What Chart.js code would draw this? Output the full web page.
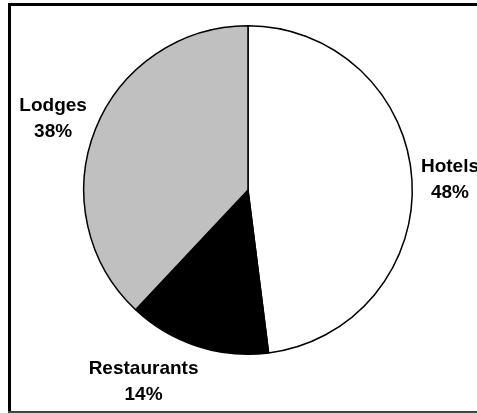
<!DOCTYPE html>
<html>
<head>
<meta charset="utf-8">
<script src="https://cdn.jsdelivr.net/npm/chart.js@4.4.1/dist/chart.umd.min.js"></script>
<style>
  html, body { margin: 0; padding: 0; background: #fff; }
  #wrap { width: 477px; height: 413px; position: relative; }
</style>
</head>
<body>
<div id="wrap"><canvas id="pie" width="477" height="413"></canvas></div>
<script>
const categories = ["Hotels", "Restaurants", "Lodges"];
const shares = [48, 14, 38];
const sliceColors = ["#ffffff", "#000000", "#c0c0c0"];

// outer frame around the whole chart
const framePlugin = {
  id: "frame",
  beforeDraw(chart) {
    const ctx = chart.ctx;
    ctx.save();
    ctx.fillStyle = "#ffffff";
    ctx.fillRect(0, 0, chart.width, chart.height);
    ctx.fillStyle = "#000000";
    ctx.fillRect(8, 3, 3, 408);
    ctx.fillRect(8, 3, chart.width - 8, 3);
    ctx.fillStyle = "#444444";
    ctx.fillRect(8, 411, chart.width - 8, 2);
    ctx.restore();
  }
};

// category name and percent placed just outside each slice
const outsideLabels = {
  id: "outsideLabels",
  afterDatasetsDraw(chart) {
    const ctx = chart.ctx;
    const meta = chart.getDatasetMeta(0);
    const lineH = 26;
    ctx.save();
    ctx.font = "bold 19px 'Liberation Sans', Arial, sans-serif";
    ctx.fillStyle = "#000";
    ctx.textAlign = "center";
    ctx.textBaseline = "middle";
    meta.data.forEach((arc, i) => {
      const p = arc.getProps(["x", "y", "startAngle", "endAngle", "outerRadius"], true);
      const mid = (p.startAngle + p.endAngle) / 2;
      const dx = Math.cos(mid), dy = Math.sin(mid);
      const gap = 9;
      const ax = p.x + (p.outerRadius + gap) * dx;
      const ay = p.y + (p.outerRadius + gap) * dy;
      const lines = [categories[i], shares[i] + "%"];
      const w = Math.max(...lines.map(t => ctx.measureText(t).width));
      const h = lines.length * lineH;
      const cx = ax + Math.sign(dx) * Math.min(1, Math.abs(dx) * 3) * w / 2;
      const cy = ay + dy * h / 2 + 2;
      lines.forEach((t, k) => {
        ctx.fillText(t, cx, cy + (k - (lines.length - 1) / 2) * lineH);
      });
    });
    ctx.restore();
  }
};

new Chart(document.getElementById("pie"), {
  type: "pie",
  data: {
    labels: categories,
    datasets: [{
      data: shares,
      backgroundColor: sliceColors,
      borderColor: "#000000",
      borderWidth: 1.5
    }]
  },
  options: {
    responsive: false,
    animation: false,
    layout: { padding: { top: 25, bottom: 58, left: 83, right: 64 } },
    plugins: {
      legend: { display: false },
      tooltip: { enabled: false }
    }
  },
  plugins: [framePlugin, outsideLabels]
});
</script>
</body>
</html>
